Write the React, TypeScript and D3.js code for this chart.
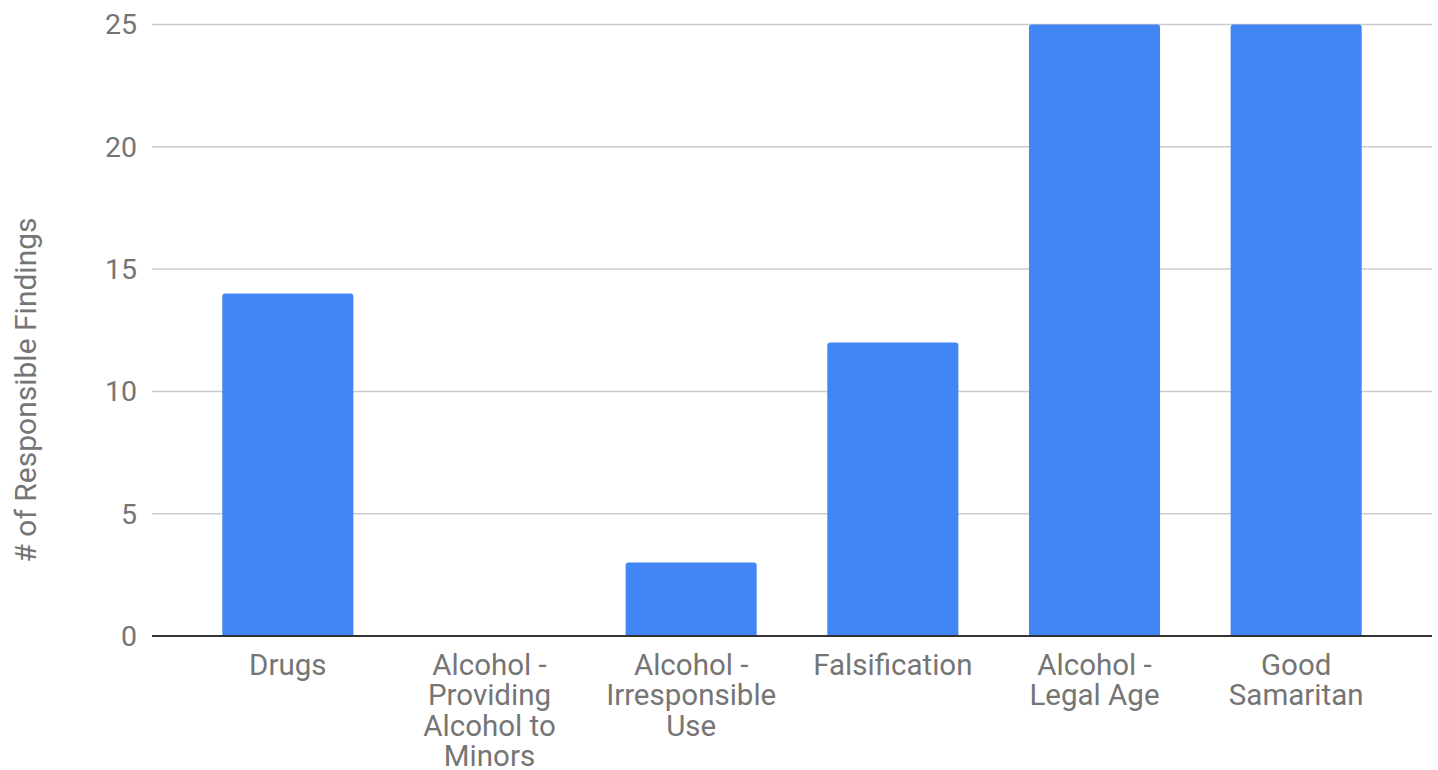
import React from "react";
import * as d3 from "d3";

const categories = [
  "Drugs",
  "Alcohol -\nProviding\nAlcohol to\nMinors",
  "Alcohol -\nIrresponsible\nUse",
  "Falsification",
  "Alcohol -\nLegal Age",
  "Good\nSamaritan",
];
const values = [14, 0, 3, 12, 25, 25];
const yTicks = [0, 5, 10, 15, 20, 25];
const yTitle = "# of Responsible Findings";

const W = 1438;
const H = 770;

export default function App() {
  const x = d3.scaleBand<string>().domain(categories).range([187, 1397]).paddingInner(0.35).paddingOuter(0.175);
  const y = d3.scaleLinear().domain([0, 25]).range([636, 24.5]);
  const gridL = 152;
  const gridR = 1432;
  const font = "Roboto, 'Noto Sans', sans-serif";
  const grey = "#757575";
  const r = 3;

  return (
    <svg width={W} height={H} style={{ position: "absolute", left: 0, top: 0, background: "#fff" }}>
      {yTicks.filter((t) => t !== 0).map((t) => (
        <line key={t} x1={gridL} x2={gridR} y1={y(t)} y2={y(t)} stroke="#cccccc" strokeWidth={1.5} />
      ))}
      {yTicks.map((t) => (
        <text key={t} x={137} y={y(t)} dy="0.35em" textAnchor="end" fontFamily={font} fontSize={28.5} fill={grey}>
          {t}
        </text>
      ))}
      {categories.map((c, i) => {
        const v = values[i];
        if (v <= 0) return null;
        const x0 = x(c)!;
        const w = x.bandwidth();
        const top = y(v);
        const bottom = y(0);
        const path = `M${x0},${bottom} L${x0},${top + r} Q${x0},${top} ${x0 + r},${top} L${x0 + w - r},${top} Q${x0 + w},${top} ${x0 + w},${top + r} L${x0 + w},${bottom} Z`;
        return <path key={c} d={path} fill="#4285f4" />;
      })}
      <line x1={gridL} x2={gridR} y1={y(0)} y2={y(0)} stroke="#333333" strokeWidth={2} />
      {categories.map((c) => {
        const cx = x(c)! + x.bandwidth() / 2;
        return (
          <text key={c} x={cx} y={675} textAnchor="middle" fontFamily={font} fontSize={29.5} fill={grey}>
            {c.split("\n").map((line, j) => (
              <tspan key={j} x={cx} dy={j === 0 ? 0 : 30.3}>
                {line}
              </tspan>
            ))}
          </text>
        );
      })}
      <text
        transform={`translate(36,390) rotate(-90)`}
        textAnchor="middle"
        fontFamily={font}
        fontSize={30}
        fill={grey}
      >
        {yTitle}
      </text>
    </svg>
  );
}
